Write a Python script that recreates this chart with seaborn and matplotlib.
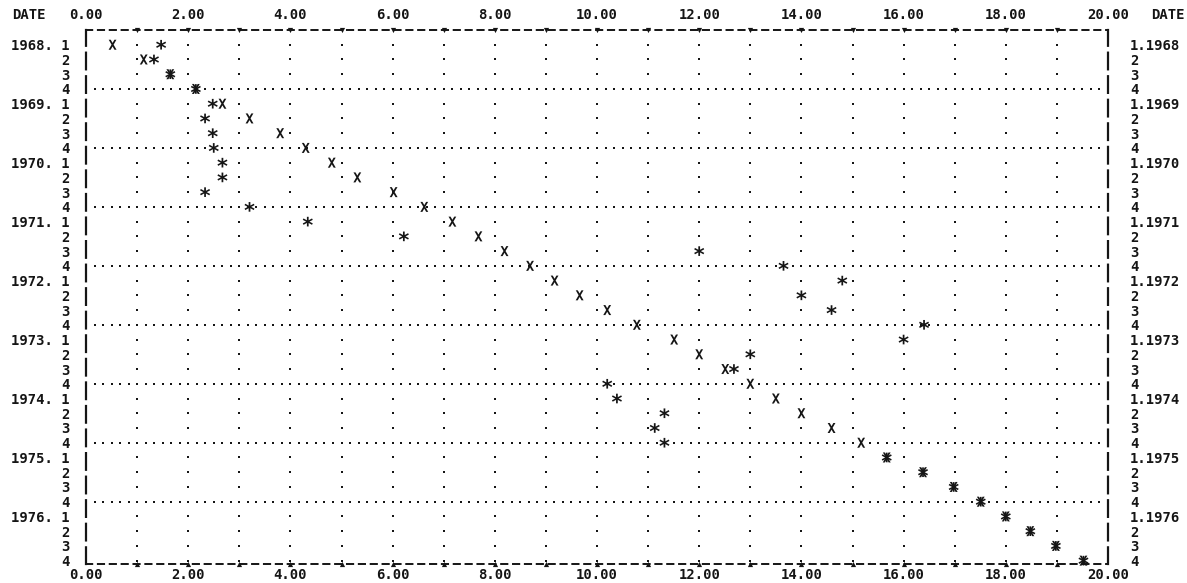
import numpy as np
import pandas as pd
import matplotlib.pyplot as plt
import seaborn as sns

# years on the left / right axis, four quarters each
years = [1968, 1969, 1970, 1971, 1972, 1973, 1974, 1975, 1976]
quarters = [1, 2, 3, 4]

# series printed with "X" (one value per quarter, 1968.1 .. 1976.4)
x_series = [0.52, 1.13, 1.65, 2.15,
            2.67, 3.20, 3.80, 4.30,
            4.81, 5.31, 6.02, 6.62,
            7.17, 7.68, 8.19, 8.69,
            9.17, 9.66, 10.20, 10.78,
            11.51, 12.00, 12.51, 13.00,
            13.50, 14.00, 14.59, 15.17,
            15.67, 16.38, 16.98, 17.51,
            18.00, 18.48, 18.98, 19.52]

# series printed with "*"
star_series = [1.47, 1.33, 1.65, 2.15,
               2.48, 2.33, 2.48, 2.50,
               2.67, 2.67, 2.33, 3.20,
               4.34, 6.22, 12.00, 13.65,
               14.80, 14.00, 14.59, 16.40,
               16.00, 13.00, 12.68, 10.20,
               10.39, 11.32, 11.13, 11.32,
               15.67, 16.38, 16.98, 17.51,
               18.00, 18.48, 18.98, 19.52]

x_ticks = [0, 2, 4, 6, 8, 10, 12, 14, 16, 18, 20]

sns.set_theme(style="white")
plt.rcParams["font.family"] = ["DejaVu Sans Mono"]
plt.rcParams["font.weight"] = "bold"
plt.rcParams["mathtext.fontset"] = "custom"
plt.rcParams["mathtext.rm"] = "DejaVu Sans Mono:bold"
plt.rcParams["mathtext.it"] = "DejaVu Sans Mono:bold"
plt.rcParams["mathtext.bf"] = "DejaVu Sans Mono:bold"

ink = "#151515"
n_rows = len(years) * len(quarters)
rows = list(range(n_rows))

df = pd.DataFrame({
    "row": rows + rows,
    "value": x_series + star_series,
    "series": ["X"] * n_rows + ["*"] * n_rows,
})

fig = plt.figure(figsize=(11.87, 5.83), dpi=100)
ax = fig.add_axes([86 / 1187, 1 - 563.6 / 583, 1022 / 1187, 533.6 / 583])
ax.set_xlim(0, 20)
ax.set_ylim(35.2, -1)

# printer style grid: dotted columns every unit, dotted rows at each 4th quarter
grid_x, grid_y = np.meshgrid(np.arange(1, 20), np.arange(0, n_rows))
ax.scatter(grid_x.ravel(), grid_y.ravel(), s=3, color=ink, marker="s", linewidths=0, zorder=1)
q4_rows = [r for r in rows if r % 4 == 3 and r < n_rows - 1]
hx, hy = np.meshgrid(np.arange(1, 120) / 6, q4_rows)
ax.scatter(hx.ravel(), hy.ravel(), s=3, color=ink, marker="s", linewidths=0, zorder=1)

# border marks at grid columns
ax.scatter(np.arange(1, 20), [-1] * 19, s=14, color=ink, marker="v", linewidths=0, clip_on=False)
ax.scatter(np.arange(1, 20), [35.2] * 19, s=14, color=ink, marker="^", linewidths=0, clip_on=False)

# the two printed series
sns.scatterplot(data=df, x="value", y="row", style="series",
                markers={"X": "$X$", "*": "$*$"}, color=ink, s=52,
                linewidth=0, legend=False, ax=ax, clip_on=False, zorder=3)

for side in ["left", "right"]:
    ax.spines[side].set_linestyle((0, (7.5, 3.1)))
    ax.spines[side].set_linewidth(1.6)
    ax.spines[side].set_color(ink)
for side in ["top", "bottom"]:
    ax.spines[side].set_linestyle((0, (3.2, 2.9)))
    ax.spines[side].set_linewidth(1.4)
    ax.spines[side].set_color(ink)

tick_text = [f"{v:.2f}" for v in x_ticks]

# x labels at the bottom
ax.set_xticks(x_ticks, labels=tick_text)
ax.tick_params(axis="x", length=0, pad=3, labelsize=10, colors=ink)

# x labels at the top
top = ax.secondary_xaxis("top")
top.set_xticks(x_ticks, labels=tick_text)
top.tick_params(axis="x", length=0, pad=6, labelsize=10, colors=ink)
top.spines["top"].set_visible(False)

# quarter labels on both sides
left_labels = []
right_labels = []
for y in years:
    for q in quarters:
        if q == 1:
            left_labels.append(f"{y}. {q}")
            right_labels.append(f"{q}.{y}")
        else:
            left_labels.append(f"{q}")
            right_labels.append(f"{q}")
ax.set_yticks(rows, labels=left_labels)
ax.tick_params(axis="y", length=0, pad=12, labelsize=10, colors=ink)

right = ax.secondary_yaxis("right")
right.set_yticks(rows, labels=right_labels)
right.tick_params(axis="y", length=0, pad=16, labelsize=10, colors=ink)
right.spines["right"].set_visible(False)

ax.set_xlabel("")
ax.set_ylabel("")

# top corner headers
fig.text(12 / 1187, 1 - 15 / 583, "DATE", fontsize=10, color=ink, va="center", ha="left")
fig.text(1151 / 1187, 1 - 15 / 583, "DATE", fontsize=10, color=ink, va="center", ha="left")

fig.savefig("out.png", dpi=100, facecolor="white")
